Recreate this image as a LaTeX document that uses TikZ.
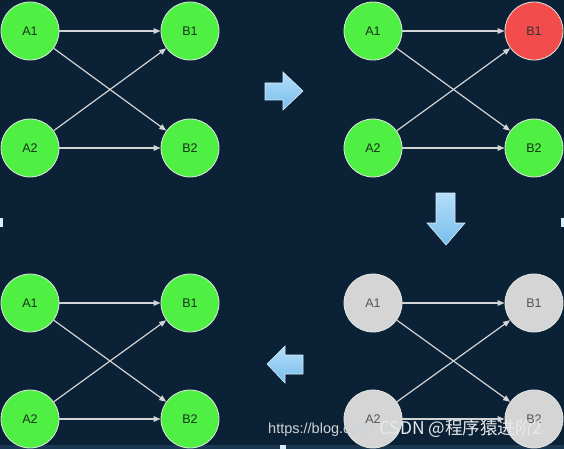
\documentclass[tikz,border=0pt]{standalone}
\usepackage{fontspec}
\setmainfont{Liberation Sans}
\newfontfamily\cjkfont{Noto Sans CJK SC}
\usetikzlibrary{arrows.meta}

\definecolor{bgnavy}{HTML}{0B2135}
\definecolor{bgstrip}{HTML}{1B3752}
\definecolor{nodegreen}{HTML}{4FF043}
\definecolor{nodered}{HTML}{F24C4C}
\definecolor{nodegray}{HTML}{D5D5D5}
\definecolor{nodeline}{HTML}{E2E6E2}
\definecolor{nodetext}{HTML}{17301A}
\definecolor{idletext}{HTML}{555555}
\definecolor{edgegray}{HTML}{D2D4D6}
\definecolor{arrowtop}{HTML}{B4DEFA}
\definecolor{arrowbot}{HTML}{78BDEB}
\definecolor{arrowedge}{HTML}{D6EEFC}

\tikzset{
  state/.style={circle, minimum size=58pt, inner sep=0pt, draw=nodeline,
    line width=0.8pt, fill=nodegreen, text=nodetext,
    font=\fontsize{12.5}{14}\selectfont},
  failed/.style={state, fill=nodered, text=black!80},
  idle/.style={state, fill=nodegray, text=idletext},
  link/.style={-{Triangle[length=7pt,width=5.5pt]}, edgegray, line width=1.2pt},
  turn/.style={top color=arrowtop, bottom color=arrowbot, draw=arrowedge, line width=0.6pt},
  watermark/.style={inner sep=0pt, anchor=west}
}

\begin{document}
\begin{tikzpicture}[x=1pt,y=-1pt]

    % Background
    \fill[bgnavy] (0,0) rectangle (564,449);
    \useasboundingbox (0,0) rectangle (564,449);
    \fill[bgstrip] (0,445) rectangle (564,449);
    \fill[arrowedge] (0,218) rectangle (3,227);
    \fill[arrowedge] (561,218) rectangle (564,227);
    \fill[arrowedge] (280,445) rectangle (286,449);

    % Step 1 (top left)
    \node[state] (a1) at (30,31) {A1};
    \node[state] (a2) at (30,148) {A2};
    \node[state] (b1) at (190,31) {B1};
    \node[state] (b2) at (190,148) {B2};
    \draw[link] (a1) -- (b1);
    \draw[link] (a1) -- (b2);
    \draw[link] (a2) -- (b1);
    \draw[link] (a2) -- (b2);

    % Step 2 (top right), B1 fails
    \node[state] (c1) at (373,31) {A1};
    \node[state] (c2) at (373,148) {A2};
    \node[failed] (d1) at (534,31) {B1};
    \node[state] (d2) at (534,148) {B2};
    \draw[link] (c1) -- (d1);
    \draw[link] (c1) -- (d2);
    \draw[link] (c2) -- (d1);
    \draw[link] (c2) -- (d2);

    % Step 3 (bottom right), all idle
    \node[idle] (e1) at (373,303) {A1};
    \node[idle] (e2) at (373,419) {A2};
    \node[idle] (f1) at (534,303) {B1};
    \node[idle] (f2) at (534,419) {B2};
    \draw[link] (e1) -- (f1);
    \draw[link] (e1) -- (f2);
    \draw[link] (e2) -- (f1);
    \draw[link] (e2) -- (f2);

    % Step 4 (bottom left), back up
    \node[state] (g1) at (30,303) {A1};
    \node[state] (g2) at (30,419) {A2};
    \node[state] (h1) at (190,303) {B1};
    \node[state] (h2) at (190,419) {B2};
    \draw[link] (g1) -- (h1);
    \draw[link] (g1) -- (h2);
    \draw[link] (g2) -- (h1);
    \draw[link] (g2) -- (h2);

    % Block arrows between the steps
    \draw[turn] (265,83) -- (283,83) -- (283,72) -- (303,91) -- (283,110) -- (283,100) -- (265,100) -- cycle;
    \draw[turn] (436,193) -- (455,193) -- (455,223) -- (465,223) -- (446,245) -- (427,223) -- (436,223) -- cycle;
    \draw[turn] (303,355) -- (285,355) -- (285,346) -- (267,364) -- (285,383) -- (285,374) -- (303,374) -- cycle;

    % Watermark
    \node[watermark, text=white!80!bgnavy, font=\fontsize{14.5}{16}\selectfont] (url) at (268,430) {https://blog.csdn.net};
    \node[watermark, text=white!90!bgnavy, font=\cjkfont\fontsize{17.5}{19}\selectfont] (mark) at (379,429) {CSDN @程序猿进阶2};

\end{tikzpicture}
\end{document}
